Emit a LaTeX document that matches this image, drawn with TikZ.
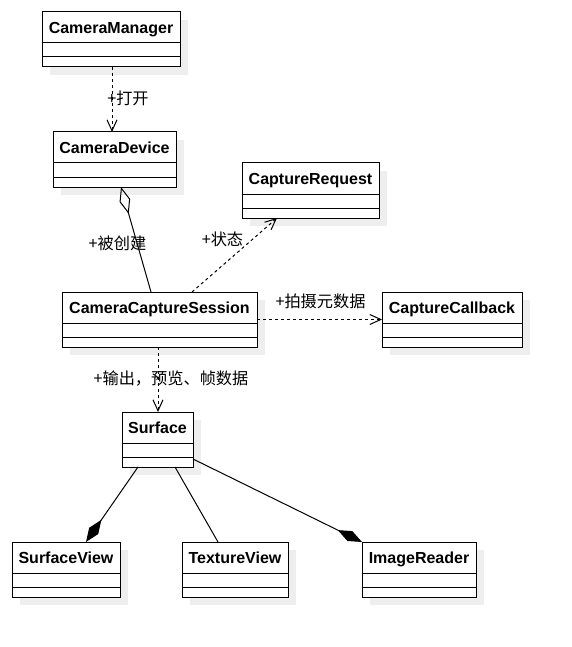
\documentclass[tikz,border=0pt]{standalone}
\usepackage{fontspec}
\setmainfont{Liberation Sans}
\newfontfamily\cjkfont{Noto Sans CJK SC}
\usetikzlibrary{arrows.meta}
\definecolor{shadowc}{RGB}{238,238,238}
\tikzset{
  classbox/.style={draw, fill=white, line width=1pt, inner sep=0pt, outer sep=0pt},
  classtitle/.style={inner sep=0pt, anchor=base, font=\fontsize{16}{19}\selectfont\bfseries},
  edgelabel/.style={inner sep=0pt, font=\fontsize{16.2}{19}\selectfont\cjkfont},
  conn/.style={line width=1pt},
  dep/.style={conn, dash pattern=on 3pt off 3pt, -{Straight Barb[length=11pt,width=10pt]}},
  aggr/.style={conn, -{Diamond[open,length=28pt,width=11pt]}},
  compo/.style={conn, -{Diamond[length=27pt,width=11pt]}}
}
\newcommand\umlclass[6]{%
  \fill[shadowc] (#2+8,#3+8) rectangle (#4+8,#5+8);
  \node[classbox, minimum width={(#4-#2)*1pt}, minimum height={(#5-#3)*1pt}] (#1) at ({(#2+#4)/2},{(#3+#5)/2}) {};
  \node[classtitle] (#1-title) at ({(#2+#4)/2},{#3+21.3}) {#6};
  \draw[line width=1pt] (#2,#3+31) -- (#4,#3+31) (#2,#3+45) -- (#4,#3+45);
}
\begin{document}
\begin{tikzpicture}[x=1pt,y=-1pt]
\useasboundingbox (0,0) rectangle (571,647);
\umlclass{cm}{42}{12}{180}{67}{CameraManager}
\umlclass{cd}{53}{132}{176}{187}{CameraDevice}
\umlclass{cr}{242}{163}{379}{218}{CaptureRequest}
\umlclass{ccs}{62}{292}{257}{347}{CameraCaptureSession}
\umlclass{cc}{382}{292}{522}{347}{CaptureCallback}
\umlclass{sf}{122}{412}{193}{467}{Surface}
\umlclass{sv}{12}{542}{120}{597}{SurfaceView}
\umlclass{tv}{182}{542}{288}{597}{TextureView}
\umlclass{ir}{362}{542}{476}{597}{ImageReader}

% CameraManager -> CameraDevice
\draw[dep] ([xshift=1pt]cm.south) -- ([xshift=-2.5pt]cd.north);
\node[edgelabel] (l1) at (128,98) {+打开};
% CameraCaptureSession -> CameraDevice (aggregation)
\draw[aggr] ([xshift=-8.5pt]ccs.north) -- ([xshift=6.5pt]cd.south);
\node[edgelabel] (l2) at (117.5,243) {+被创建};
% CameraCaptureSession -> CaptureRequest
\draw[dep] ([xshift=32.5pt]ccs.north) -- ([xshift=-33.5pt]cr.south);
\node[edgelabel] (l3) at (222.5,239) {+状态};
% CameraCaptureSession -> CaptureCallback
\draw[dep] (ccs.east) -- (cc.west);
\node[edgelabel] (l4) at (320.5,301) {+拍摄元数据};
% CameraCaptureSession -> Surface
\draw[dep] ([xshift=-1.5pt]ccs.south) -- ([xshift=0.5pt]sf.north);
\node[edgelabel] (l5) at (171,379) {+输出，预览、帧数据};
% Surface -> SurfaceView / TextureView / ImageReader
\draw[compo] ([xshift=-19.5pt]sf.south) -- ([xshift=20pt]sv.north);
\draw[conn] ([xshift=17.5pt]sf.south) -- ([xshift=-17pt]tv.north);
\draw[compo] ([yshift=-19.5pt]sf.east) -- (ir.north west);
\end{tikzpicture}
\end{document}
